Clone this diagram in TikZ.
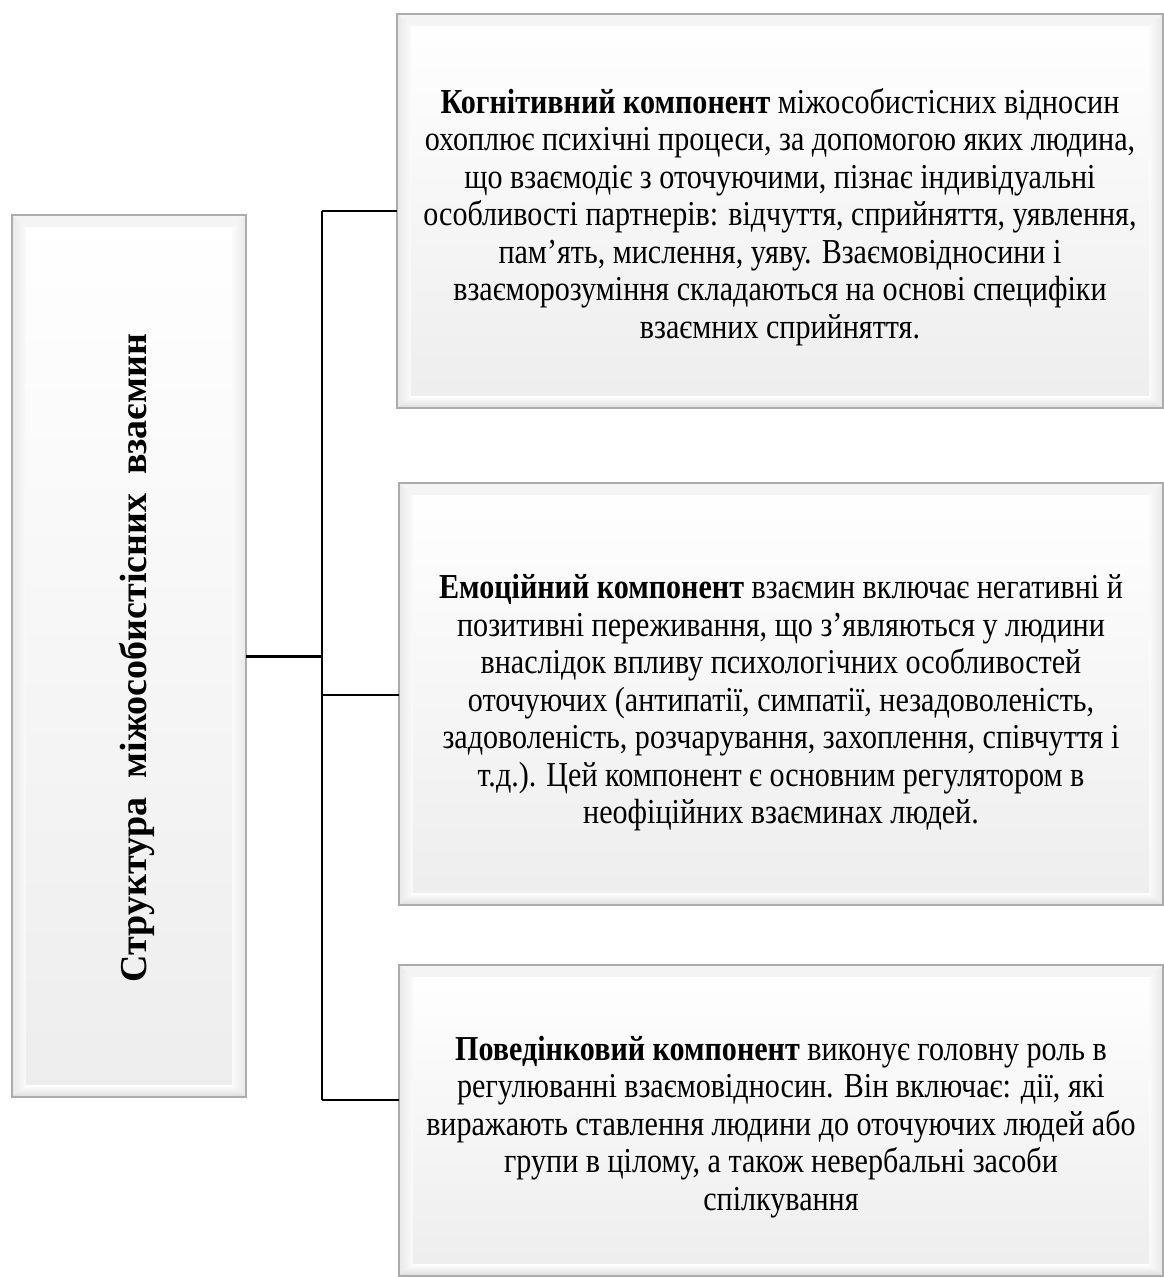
\documentclass[tikz,border=0pt]{standalone}
\usepackage{fontspec}
\setmainfont{Liberation Serif}[FakeStretch=0.86]
\newfontfamily\leftfont{Liberation Serif}
\usetikzlibrary{backgrounds}
\tikzset{
  panel/.style={rectangle, inner sep=0pt, align=center, font=\fontsize{35}{37.5}\selectfont},
  conn/.style={line width=2pt, black},
  trunk/.style={line width=3pt, black},
}
\newcommand\bevelpanel[1]{%
  \shade[top color=white, bottom color=gray!14] (#1.north west) rectangle (#1.south east);
  \fill[gray!9] (#1.north west) -- (#1.north east) -- ([shift={(-14,-12)}]#1.north east) -- ([shift={(14,-12)}]#1.north west) -- cycle;
  \shade[left color=gray!18, right color=gray!4] (#1.north west) -- ([shift={(14,-12)}]#1.north west) -- ([shift={(14,12)}]#1.south west) -- (#1.south west) -- cycle;
  \shade[left color=gray!4, right color=gray!18] (#1.north east) -- ([shift={(-14,-12)}]#1.north east) -- ([shift={(-14,12)}]#1.south east) -- (#1.south east) -- cycle;
  \shade[top color=white, bottom color=gray!28] ([shift={(14,12)}]#1.south west) -- ([shift={(-14,12)}]#1.south east) -- (#1.south east) -- (#1.south west) -- cycle;
  \draw[gray!65, line width=2pt] (#1.north west) rectangle (#1.south east);
}
\begin{document}
\begin{tikzpicture}[x=1pt,y=1pt]
\useasboundingbox (0,0) rectangle (1164,-1277);
\clip (0,0) rectangle (1164,-1277);

\node[panel, minimum width=234, minimum height=882] (left) at (129,-656) {};
\node[panel, rotate=90, font=\leftfont\fontsize{38}{40}\selectfont\bfseries] (lefttext) at (137,-658) {Структура\ \ міжособистісних\ \ взаємин};

\node[panel, minimum width=766, minimum height=394] (b1) at (780,-211) {};
\node[panel] (t1) at (780,-217) {\textbf{Когнітивний компонент} міжособистісних відносин\\
охоплює психічні процеси, за допомогою яких людина,\\
що взаємодіє з оточуючими, пізнає індивідуальні\\
особливості партнерів: відчуття, сприйняття, уявлення,\\
пам’ять, мислення, уяву. Взаємовідносини і\\
взаєморозуміння складаються на основі специфіки\\
взаємних сприйняття.};

\node[panel, minimum width=764, minimum height=422] (b2) at (781,-694) {};
\node[panel] (t2) at (781,-703) {\textbf{Емоційний компонент} взаємин включає негативні й\\
позитивні переживання, що з’являються у людини\\
внаслідок впливу психологічних особливостей\\
оточуючих (антипатії, симпатії, незадоволеність,\\
задоволеність, розчарування, захоплення, співчуття і\\
т.д.). Цей компонент є основним регулятором в\\
неофіційних взаєминах людей.};

\node[panel, minimum width=764, minimum height=311] (b3) at (781,-1120.5) {};
\node[panel] (t3) at (781,-1127) {\textbf{Поведінковий компонент} виконує головну роль в\\
регулюванні взаємовідносин. Він включає: дії, які\\
виражають ставлення людини до оточуючих людей або\\
групи в цілому, а також невербальні засоби\\
спілкування};

\begin{pgfonlayer}{background}
  \bevelpanel{left}
  \bevelpanel{b1}
  \bevelpanel{b2}
  \bevelpanel{b3}
\end{pgfonlayer}

\coordinate (trunkpt) at (322,-656);
\draw[trunk] (left.east) -- (trunkpt);
\draw[trunk, line width=2.6pt] (trunkpt |- b1.west) -- (trunkpt |- 0,-1100);
\draw[conn] (trunkpt |- b1.west) -- (b1.west);
\draw[conn] (trunkpt |- 0,-695) -- (b2.west |- 0,-695);
\draw[conn] (trunkpt |- 0,-1100) -- (b3.west |- 0,-1100);
\end{tikzpicture}
\end{document}
